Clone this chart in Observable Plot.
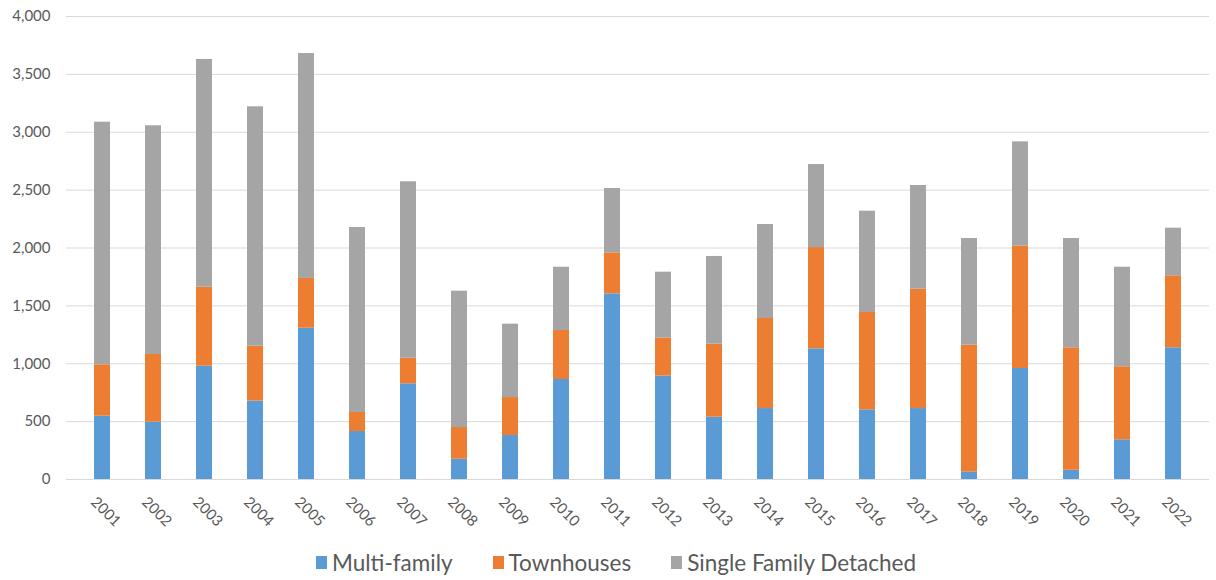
<!DOCTYPE html>
<html><head><meta charset="utf-8">
<script src="https://cdn.jsdelivr.net/npm/d3@7"></script>
<script src="https://cdn.jsdelivr.net/npm/@observablehq/plot@0.6"></script>
<style>
body{margin:0;background:#fff;font-family:Lato,"Noto Sans",sans-serif;}
#legend{display:flex;justify-content:center;gap:40px;font-size:22.5px;color:#595959;height:34px;align-items:center;padding-left:16px}
.item{display:flex;align-items:center;gap:5px}
.sw{width:11px;height:13px;display:inline-block}
</style></head><body><div id="chart"></div><div id="legend"></div>
<script>
const years = ["2001","2002","2003","2004","2005","2006","2007","2008","2009","2010","2011","2012","2013","2014","2015","2016","2017","2018","2019","2020","2021","2022"];
const multiFamily = [547,495,979,677,1307,415,827,175,380,864,1604,893,538,613,1129,602,613,63,959,80,343,1138];
const townhouses = [444,585,682,475,430,164,221,274,328,423,354,328,631,778,875,841,1031,1097,1057,1058,631,622];
const singleFamily = [2096,1976,1968,2068,1943,1598,1524,1178,634,547,556,570,758,812,717,875,896,922,901,944,860,411];
const seriesNames = ["Multi-family","Townhouses","Single Family Detached"];
const seriesColors = ["#5b9bd5","#ed7d31","#a5a5a5"];
const yTicks = [0,500,1000,1500,2000,2500,3000,3500,4000];

const seriesValues = [multiFamily, townhouses, singleFamily];
const rows = [];
seriesNames.forEach((s, si) => years.forEach((y, i) => rows.push({year: y, series: s, value: seriesValues[si][i]})));

const chart = Plot.plot({
  width: 1216,
  height: 545,
  marginTop: 16,
  marginBottom: 66,
  marginLeft: 66,
  marginRight: 7,
  style: {fontFamily: "Lato, 'Noto Sans', sans-serif", fontSize: "15px", color: "#595959", background: "#fff"},
  x: {domain: years, paddingInner: 0.69, paddingOuter: 0.345, align: 0.5},
  y: {domain: [0, 4000]},
  color: {domain: seriesNames, range: seriesColors},
  marks: [
    Plot.gridY(yTicks, {stroke: "#d9d9d9", strokeOpacity: 1}),
    Plot.axisY(yTicks, {tickSize: 0, tickPadding: 16, tickFormat: d3.format(","), label: null}),
    Plot.axisX({tickSize: 0, tickRotate: 45, tickPadding: 20, dx: -9, label: null}),
    Plot.barY(rows, Plot.stackY({x: "year", y: "value", fill: "series", order: seriesNames})),
    Plot.ruleY([0], {stroke: "#d9d9d9"})
  ]
});
document.getElementById("chart").appendChild(chart);

const legend = document.getElementById("legend");
seriesNames.forEach((s, i) => {
  const item = document.createElement("div");
  item.className = "item";
  const sw = document.createElement("span");
  sw.className = "sw";
  sw.style.background = seriesColors[i];
  const t = document.createElement("span");
  t.textContent = s;
  item.appendChild(sw); item.appendChild(t);
  legend.appendChild(item);
});
</script>
</body></html>
